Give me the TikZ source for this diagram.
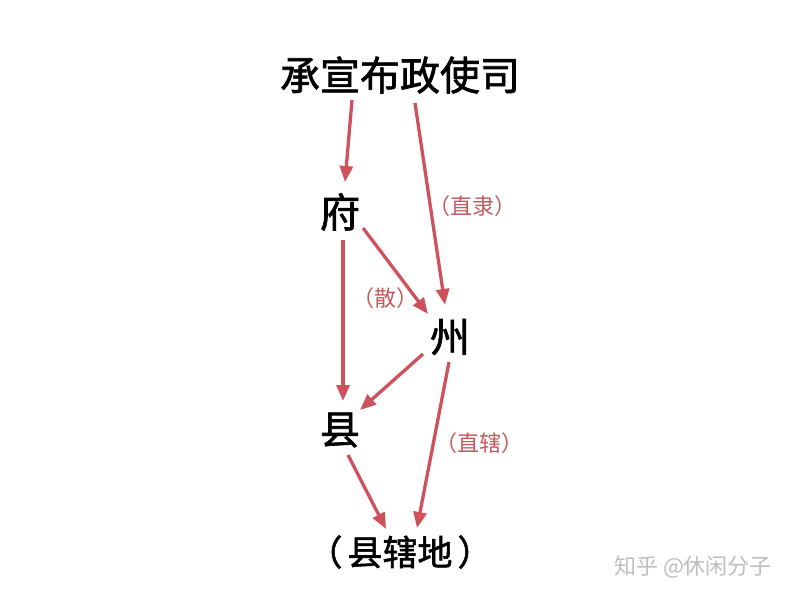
\documentclass[tikz,border=0pt]{standalone}
\usepackage{fontspec}
\newfontfamily\cjk{Noto Sans CJK SC}
\newfontfamily\cjkb[FakeBold=1.6]{Noto Sans CJK SC}
\usetikzlibrary{arrows.meta}
\definecolor{arrred}{RGB}{205,82,92}
\definecolor{lblred}{RGB}{196,90,96}
\definecolor{wmgray}{RGB}{190,190,190}
\tikzset{
  big/.style={inner sep=0pt, font=\cjkb\fontsize{40}{44}\selectfont, text=black},
  mid/.style={inner sep=0pt, font=\cjkb\fontsize{35}{40}\selectfont, text=black},
  lbl/.style={inner sep=0pt, font=\cjk\fontsize{22}{24}\selectfont, text=lblred},
  wm/.style={inner sep=0pt, font=\cjk\fontsize{22}{24}\selectfont, text=wmgray},
  arr/.style={draw=arrred, line width=3.3pt, -{Triangle[length=16pt,width=13pt]}}
}
\begin{document}
\begin{tikzpicture}[x=1pt,y=-1pt]
\useasboundingbox[fill=white] (0,0) rectangle (800,600);
\node[big] (t) at (400,75) {承宣布政使司};
\node[big] (f) at (340,212) {府};
\node[big] (z) at (450,337) {州};
\node[big] (x) at (340,430) {县};
\node[mid] (d) at (400,552) {（\hspace{5pt}县辖地\hspace{5pt}）};
\node[lbl] (l1) at (472,206) {（直隶）};
\node[lbl] (l2) at (385,298) {（散）};
\node[lbl] (l3) at (479,443) {（直辖）};
\node[wm] (w) at (693,567) {知乎 @休闲分子};
\draw[arr] ([shift={(-48,25)}]t.center) -- ([shift={(5,-30)}]f.center);
\draw[arr] ([shift={(15,28)}]t.center) -- ([shift={(-5,-32)}]z.center);
\draw[arr] ([shift={(23,16)}]f.center) -- ([shift={(-22,-23)}]z.center);
\draw[arr] ([shift={(3,28)}]f.center) -- ([shift={(3,-29)}]x.center);
\draw[arr] ([shift={(-27,17)}]z.center) -- ([shift={(20,-20)}]x.center);
\draw[arr] ([shift={(-1,25)}]z.center) -- ([shift={(17,-24)}]d.center);
\draw[arr] ([shift={(8,25)}]x.center) -- ([shift={(-14,-23)}]d.center);
\end{tikzpicture}
\end{document}
